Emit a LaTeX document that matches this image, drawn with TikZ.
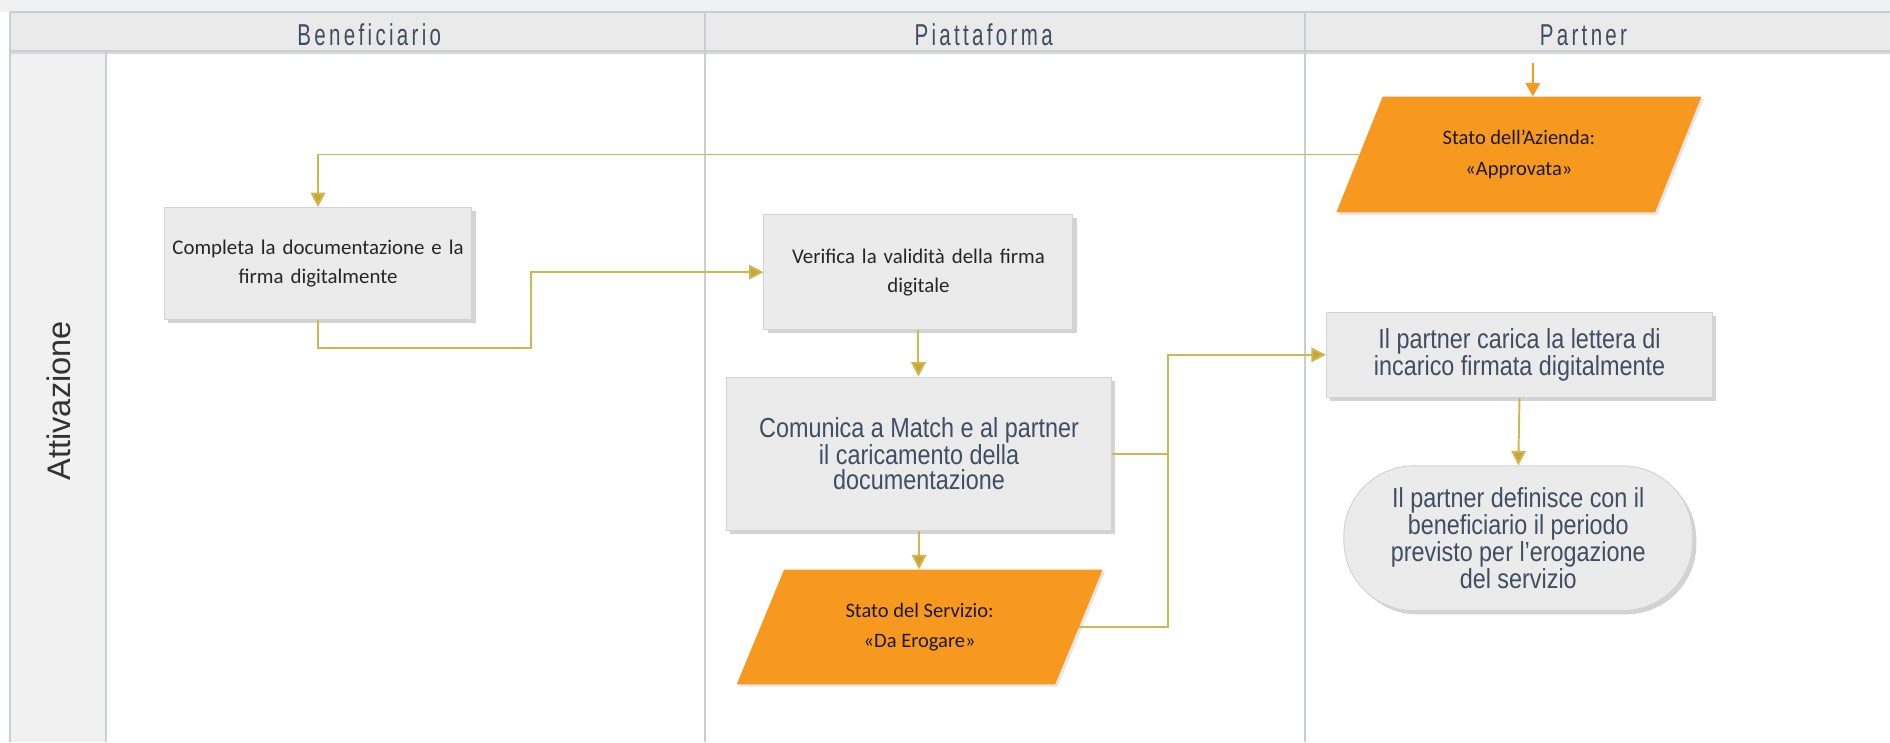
\documentclass[tikz,border=0pt]{standalone}
\usepackage{fontspec}
\setmainfont{Carlito}
\newfontfamily\narrowfont{Liberation Sans}[FakeStretch=0.85]
\newfontfamily\headfont{Liberation Sans}[FakeStretch=0.68,LetterSpace=11]
\newfontfamily\arialfont{Liberation Sans}
\usetikzlibrary{shapes.geometric,shadows,arrows.meta}
\definecolor{laneline}{HTML}{C9CED1}
\definecolor{headfill}{HTML}{EAEAEA}
\definecolor{topband}{HTML}{F1F1F1}
\definecolor{colfill}{HTML}{F1F1F1}
\definecolor{boxfill}{HTML}{EBEBEB}
\definecolor{boxline}{HTML}{D3D3D3}
\definecolor{orangefill}{HTML}{F7991E}
\definecolor{slate}{HTML}{3F4E63}
\definecolor{gold}{HTML}{D0B650}
\definecolor{goldtip}{HTML}{C9A632}
\begin{document}
\begin{tikzpicture}[x=1pt,y=-1pt,
  lane/.style={draw=laneline,line width=1.4pt},
  headlabel/.style={font=\headfont\fontsize{25}{28}\selectfont,text=slate},
  procbox/.style={draw=boxline,fill=boxfill,line width=0.8pt,
     drop shadow={shadow xshift=3pt,shadow yshift=-3pt,opacity=0.35,fill=gray},
     align=center,inner sep=4pt},
  smalltext/.style={font=\fontsize{17.3}{24}\selectfont,text=black!85},
  bigtext/.style={font=\narrowfont\fontsize{22.8}{21}\selectfont,text=slate},
  statebox/.style={trapezium,trapezium left angle=64,trapezium right angle=116,
     trapezium stretches=true,fill=orangefill,draw=none,align=center,
     font=\fontsize{17}{25}\selectfont,text=black!90,
     drop shadow={shadow xshift=2pt,shadow yshift=-2pt,opacity=0.2,fill=gray}},
  flow/.style={draw=gold,line width=1.6pt,-{Triangle[length=12pt,width=12pt,fill=goldtip]}},
  flowline/.style={draw=gold,line width=1.6pt}]
\useasboundingbox (0,0) rectangle (1566,615);
% background bands
\fill[topband] (0,0) rectangle (1566,10);
\fill[headfill] (8,10) rectangle (1566,42);
\fill[colfill] (8,42) rectangle (88,615);
\fill[gray!30] (8,42) rectangle (1566,45);
\draw[laneline,line width=1.4pt] (8,10) -- (1566,10);
\draw[laneline,line width=1.4pt] (8,42) -- (1566,42);
\draw[lane] (8,10) -- (8,615);
\draw[lane] (88,42) -- (88,615);
\draw[lane] (584,10) -- (584,615);
\draw[lane] (1081,10) -- (1081,615);
% header labels
\node[headlabel] (hben) at (306,29) {Beneficiario};
\node[headlabel] (hpia) at (815,29) {Piattaforma};
\node[headlabel] (hpar) at (1312,29) {Partner};
\node[rotate=90,font=\arialfont\fontsize{27}{30}\selectfont,text=black!80] (att) at (49,332) {Attivazione};
% nodes
\node[statebox,minimum width=303pt,minimum height=96pt] (azienda) at (1258.5,128)
  {Stato dell’Azienda:\\«Approvata»};
\coordinate (startaz) at (1270,52);
\node[procbox,smalltext,minimum width=255pt,minimum height=93pt,text width=247pt] (completa) at (263.5,218.5)
  {Completa la documentazione e la\\firma digitalmente};
\node[procbox,smalltext,minimum width=256pt,minimum height=95pt,text width=248pt] (verifica) at (761,225.5)
  {Verifica la validità della firma\\digitale};
\node[procbox,bigtext,minimum width=319pt,minimum height=127pt] (comunica) at (761.5,376)
  {Comunica a Match e al partner\\il caricamento della\\documentazione};
\node[statebox,minimum width=304pt,minimum height=95pt] (erogare) at (762,519.5)
  {Stato del Servizio:\\«Da Erogare»};
\node[procbox,bigtext,minimum width=320pt,minimum height=70pt] (carica) at (1259,294)
  {Il partner carica la lettera di\\incarico firmata digitalmente};
\node[procbox,bigtext,rounded corners=58pt,minimum width=289pt,minimum height=120pt] (term) at (1258,446)
  {Il partner definisce con il\\beneficiario il periodo\\previsto per l’erogazione\\del servizio};
% connectors
\draw[draw=orangefill,line width=1.8pt,-{Triangle[length=11pt,width=12pt]}] (startaz) -- (azienda.north -| startaz);
\draw[flow] (azienda.west) -| (completa.north);
\coordinate (k) at (440,288);
\draw[flow] (completa.south) |- (k) |- (verifica.west);
\draw[flow] (verifica.south) -- (verifica.south |- comunica.north);
\draw[flow] (comunica.south) -- (comunica.south |- erogare.north);
\coordinate (j) at (968,376);
\draw[flowline] (comunica.east) -- (j);
\draw[flow] (erogare.east) -| (j) |- (carica.west);
\draw[flow] (carica.south) -- (term.north);
\end{tikzpicture}
\end{document}
